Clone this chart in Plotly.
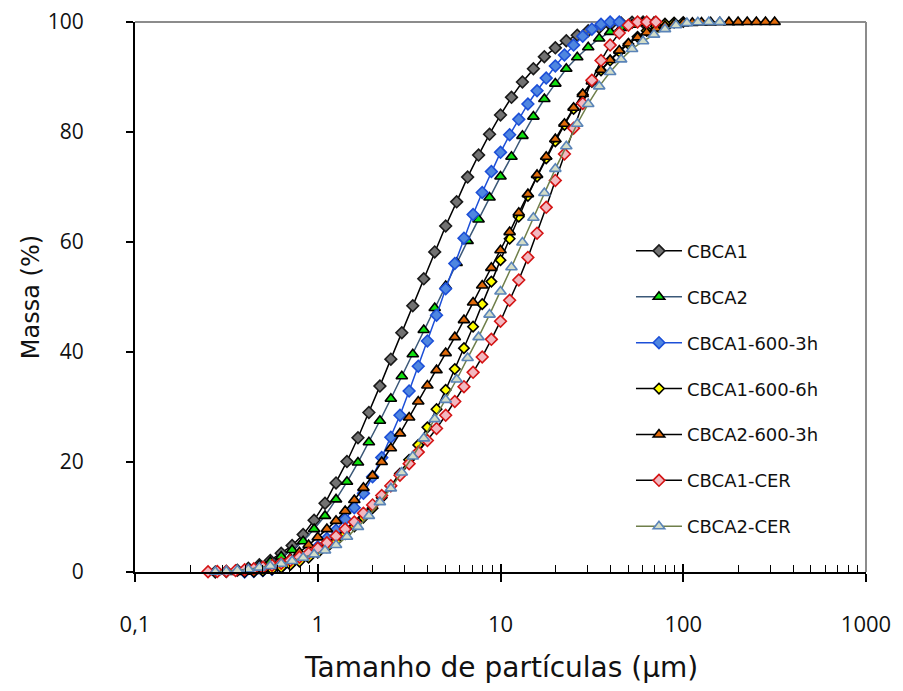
import plotly.graph_objects as go

# Particle size bins (µm)
SIZES_A = [0.275, 0.316, 0.363, 0.417, 0.479, 0.550, 0.631, 0.724, 0.832, 0.955,
           1.096, 1.259, 1.445, 1.660, 1.905, 2.188, 2.512, 2.884, 3.311, 3.802,
           4.365, 5.012, 5.754, 6.607, 7.586, 8.710, 10.000, 11.482, 13.183, 15.136,
           17.378, 19.953, 22.909, 26.303, 30.200, 34.674, 39.811, 45.709, 52.481, 60.256,
           69.183, 79.433, 91.201, 104.713, 120.226, 138.038, 158.489]
SIZES_B = [0.251, 0.282, 0.316, 0.355, 0.398, 0.447, 0.501, 0.562, 0.631, 0.708,
           0.794, 0.891, 1.000, 1.122, 1.259, 1.413, 1.585, 1.778, 1.995, 2.239,
           2.512, 2.818, 3.162, 3.548, 3.981, 4.467, 5.012, 5.623, 6.310, 7.079,
           7.943, 8.913, 10.000, 11.220, 12.589, 14.125, 15.849, 17.783, 19.953, 22.387,
           25.119, 28.184, 31.623, 35.481, 39.811, 44.668, 50.119, 56.234, 63.096, 70.795,
           79.433, 89.125, 100.000, 112.202, 125.893, 141.254, 158.489, 177.828, 199.526, 223.872,
           251.189, 281.838, 316.228]

# Cumulative mass (%) per sample
cbca1 = [0.0, 0.1, 0.3, 0.7, 1.3, 2.1, 3.4, 4.8, 6.8, 9.4,
         12.5, 16.2, 20.1, 24.4, 29.0, 33.8, 38.7, 43.5, 48.4, 53.3,
         58.2, 62.9, 67.3, 71.8, 75.8, 79.6, 83.1, 86.3, 89.1, 91.5,
         93.7, 95.3, 96.6, 97.6, 98.4, 99.0, 99.5, 99.8, 99.95, 100.0]
cbca2 = [0.0, 0.1, 0.25, 0.6, 1.1, 1.8, 2.8, 4.0, 5.6, 7.8,
         10.2, 13.2, 16.4, 19.9, 23.6, 27.5, 31.5, 35.6, 39.6, 44.0,
         48.0, 52.0, 56.2, 60.2, 64.1, 68.1, 71.9, 75.5, 79.3, 82.8,
         86.0, 88.8, 91.5, 93.6, 95.4, 97.0, 98.2, 98.9, 99.5, 99.85,
         100.0]
cbca1_600_3h = [0.0, 0.1, 0.25, 0.5, 0.9, 1.5, 2.3, 3.3, 4.6, 6.1,
                7.6, 9.6, 11.7, 14.3, 17.3, 20.8, 24.5, 28.5, 32.9, 37.4,
                42.0, 46.7, 51.5, 56.1, 60.7, 65.0, 69.0, 72.8, 76.3, 79.5,
                82.3, 85.1, 87.5, 89.8, 92.0, 94.0, 95.8, 97.4, 98.7, 99.6,
                100.0, 100.0]
cbca1_600_6h = [0.0, 0.05, 0.2, 0.45, 0.8, 1.3, 1.9, 2.6, 3.5, 4.5,
                5.6, 6.9, 8.3, 9.9, 11.6, 13.5, 15.6, 17.9, 20.4, 23.1,
                26.3, 29.6, 33.1, 36.9, 40.7, 44.6, 48.7, 52.8, 56.7, 60.6,
                64.6, 68.4, 71.9, 75.2, 78.3, 81.3, 84.2, 86.8, 89.1, 91.2,
                93.0, 94.6, 96.0, 97.3, 98.4, 99.2, 99.7, 99.9, 100.0]
cbca2_600_3h = [0.0, 0.05, 0.2, 0.5, 1.0, 1.6, 2.5, 3.6, 4.9, 6.3,
                7.8, 9.3, 11.1, 13.1, 15.3, 17.5, 20.0, 22.5, 25.2, 28.1,
                31.0, 33.9, 36.7, 39.8, 42.7, 45.8, 49.0, 52.1, 55.3, 58.5,
                61.8, 65.3, 68.7, 72.2, 75.5, 78.7, 81.5, 84.4, 86.9, 89.2,
                91.3, 93.1, 94.8, 96.1, 97.2, 98.1, 98.8, 99.3, 99.6, 99.75,
                99.85, 99.9, 99.93, 99.95, 99.97, 99.98, 99.99, 100.0, 100.0, 100.0]
cbca1_cer = [0.05, 0.08, 0.15, 0.25, 0.4, 0.6, 0.85, 1.2, 1.6, 2.1,
             2.7, 3.4, 4.3, 5.3, 6.5, 7.8, 9.1, 10.7, 12.2, 13.9,
             15.7, 17.6, 19.7, 21.8, 23.9, 26.1, 28.5, 31.0, 33.7, 36.3,
             39.1, 42.3, 45.6, 49.4, 53.1, 57.2, 61.6, 66.3, 71.2, 76.0,
             80.7, 85.2, 89.4, 93.0, 95.8, 98.0, 99.4, 100.0, 100.0, 100.0]
cbca2_cer = [0.05, 0.15, 0.3, 0.5, 0.8, 1.1, 1.5, 2.0, 2.6, 3.2,
             3.9, 4.9, 6.4, 8.2, 10.2, 12.7, 15.2, 18.1, 21.0, 24.3,
             27.8, 31.3, 35.0, 38.9, 42.7, 46.8, 51.0, 55.4, 59.9, 64.4,
             68.9, 73.3, 77.4, 81.5, 85.1, 88.3, 90.9, 93.2, 95.1, 96.5,
             97.7, 98.7, 99.4, 99.8, 99.95, 100.0, 100.0]

names = ["CBCA1", "CBCA2", "CBCA1-600-3h", "CBCA1-600-6h", "CBCA2-600-3h", "CBCA1-CER", "CBCA2-CER"]

series = [
    # name, sizes, start index, values, line color, symbol, fill, outline, size
    (names[0], SIZES_A, 0, cbca1, "#000000", "diamond", "#727272", "#1a1a1a", 9),
    (names[1], SIZES_A, 0, cbca2, "#3b5878", "triangle-up", "#10e010", "#000000", 10),
    (names[2], SIZES_B, 4, cbca1_600_3h, "#1c4fd8", "diamond", "#4f86e0", "#1c4fd8", 9),
    (names[3], SIZES_B, 4, cbca1_600_6h, "#000000", "diamond", "#ffff00", "#000000", 8),
    (names[4], SIZES_B, 3, cbca2_600_3h, "#000000", "triangle-up", "#e06a0a", "#000000", 10),
    (names[5], SIZES_B, 0, cbca1_cer, "#000000", "diamond", "#f2b8c0", "#d41414", 9),
    (names[6], SIZES_A, 0, cbca2_cer, "#6f7f4a", "triangle-up", "#d3ddc8", "#5a84b8", 10),
]

fig = go.Figure()
for i, (nm, sizes, st, vals, lc, sym, fc, oc, ms) in enumerate(series):
    fig.add_trace(go.Scatter(
        x=sizes[st:st + len(vals)], y=vals, name=nm, mode="lines+markers",
        line=dict(color=lc, width=1.5),
        marker=dict(symbol=sym, size=ms, color=fc, line=dict(color=oc, width=1.6)),
        cliponaxis=False, legendgroup="g%d" % i,
    ))

FONT = "Open Sans"
TXT = "DejaVu Sans"
fig.update_layout(
    width=903, height=691,
    margin=dict(l=135, r=37, t=22, b=119, autoexpand=False),
    paper_bgcolor="white", plot_bgcolor="white",
    font=dict(family=FONT, color="#111111", size=18),
    showlegend=True,
    legend=dict(x=0.6785, y=0.617, xanchor="left", yanchor="top",
                bgcolor="rgba(0,0,0,0)", font=dict(size=18, family=TXT, color="#111111"),
                tracegroupgap=19.5, itemwidth=46),
    xaxis=dict(type="log", range=[-1, 3], showgrid=False, zeroline=False, automargin=False,
               showline=True, linecolor="black", linewidth=2,
               tickvals=[0.1, 1, 10, 100, 1000], ticktext=["0,1", "1", "10", "100", "1000"],
               ticks="outside", ticklen=8, tickwidth=2, tickcolor="black",
               ticklabelstandoff=24, tickfont=dict(size=22, family=FONT),
               minor=dict(tickvals=[v * 10 ** e for e in range(-1, 3) for v in range(2, 10)],
                          ticks="inside", ticklen=7, tickwidth=1.3, tickcolor="black")),
    xaxis2=dict(type="log", range=[-1, 3], overlaying="x", matches="x", showgrid=False,
                automargin=False, tickvals=[0.1, 1, 10, 100, 1000], showticklabels=False,
                ticks="inside", ticklen=8, tickwidth=2, tickcolor="black", zeroline=False),
    yaxis=dict(range=[0, 100], dtick=20, showgrid=False, zeroline=False, automargin=False,
               showline=True, linecolor="black", linewidth=2,
               ticks="outside", ticklen=7, tickwidth=2, tickcolor="black",
               ticklabelstandoff=38, tickfont=dict(size=21, family=FONT)),
)
# dummy trace to show xaxis2
fig.add_trace(go.Scatter(x=[1], y=[None], xaxis="x2", showlegend=False, hoverinfo="skip"))

# top and right plot-area border (gray)
fig.add_shape(type="line", xref="paper", yref="paper", x0=0, x1=1, y0=1, y1=1,
              line=dict(color="#8c8c8c", width=2), layer="below")
fig.add_shape(type="line", xref="paper", yref="paper", x0=1, x1=1, y0=0, y1=1,
              line=dict(color="#8c8c8c", width=2), layer="below")

fig.add_annotation(text="Tamanho de partículas (µm)", xref="paper", yref="paper",
                   x=0.5, y=-0.173, xanchor="center", yanchor="middle", showarrow=False,
                   font=dict(size=28, family=TXT, color="#111111"))
fig.add_annotation(text="Massa (%)", xref="paper", yref="paper",
                   x=-0.142, y=0.5, xanchor="center", yanchor="middle", showarrow=False,
                   textangle=-90, font=dict(size=24, family=TXT, color="#111111"))

fig.write_html("out.html")
